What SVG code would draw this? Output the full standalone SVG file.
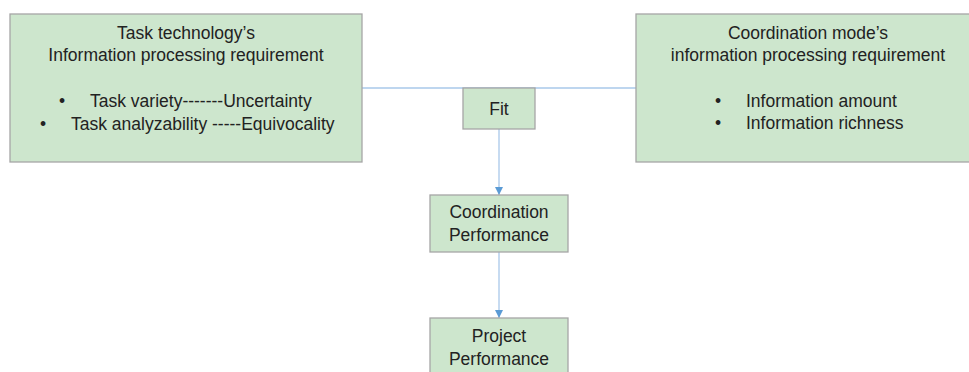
<svg xmlns="http://www.w3.org/2000/svg" width="969" height="372" viewBox="0 0 969 372">
<style>
.box{fill:#cde6cd;stroke:#a6a6a6;stroke-width:1.3}
text{font-family:"Liberation Sans",Arial,sans-serif;font-size:17.5px;fill:#222}
.c{text-anchor:middle}
.ln{stroke:#a9c8ea;stroke-width:1.3;fill:none}
</style>
<defs>
<marker id="ah" viewBox="0 0 10 10" refX="10" refY="5" markerWidth="8" markerHeight="8" markerUnits="userSpaceOnUse" orient="auto">
<path d="M0,0 L10,5 L0,10 z" fill="#5b9bd5"/>
</marker>
</defs>
<g id="connectors">
<line class="ln" x1="362" y1="88" x2="636" y2="88"/>
<line class="ln" x1="499" y1="129" x2="499" y2="195" marker-end="url(#ah)"/>
<line class="ln" x1="499" y1="252" x2="499" y2="318" marker-end="url(#ah)"/>
</g>
<g id="task">
<rect class="box" x="10" y="14" width="352" height="148"/>
<text class="c" x="186" y="39">Task technology’s</text>
<text class="c" x="186" y="61">Information processing requirement</text>
<text x="59" y="107">•</text>
<text x="90" y="107">Task variety-------Uncertainty</text>
<text x="40" y="130">•</text>
<text x="71" y="130">Task analyzability -----Equivocality</text>
</g>
<g id="coord">
<rect class="box" x="636" y="14" width="340" height="148"/>
<text class="c" x="808" y="39">Coordination mode’s</text>
<text class="c" x="808" y="61">information processing requirement</text>
<text x="715" y="107">•</text>
<text x="746" y="107">Information amount</text>
<text x="715" y="129">•</text>
<text x="746" y="129">Information richness</text>
</g>
<g id="fit">
<rect class="box" x="463" y="88" width="72" height="41"/>
<text class="c" x="499" y="115">Fit</text>
</g>
<g id="coordperf">
<rect class="box" x="430" y="195" width="138" height="57"/>
<text class="c" x="499" y="218">Coordination</text>
<text class="c" x="499" y="241">Performance</text>
</g>
<g id="projperf">
<rect class="box" x="430" y="318" width="138" height="60"/>
<text class="c" x="499" y="342">Project</text>
<text class="c" x="499" y="365">Performance</text>
</g>
</svg>
